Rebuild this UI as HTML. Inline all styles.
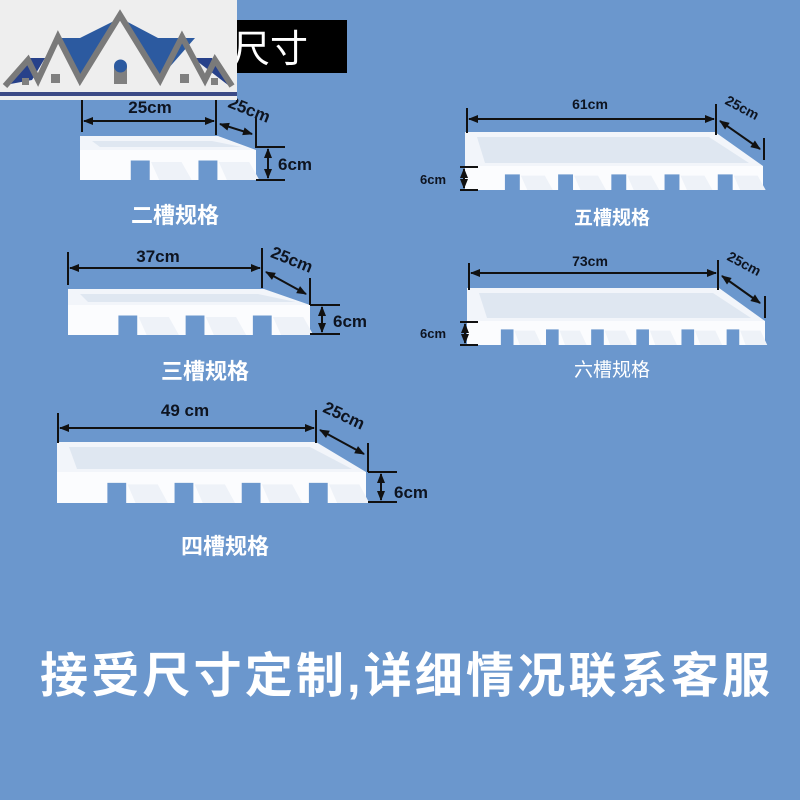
<!DOCTYPE html>
<html><head><meta charset="utf-8"><style>
html,body{margin:0;padding:0;}
body{width:800px;height:800px;background:#6b97cd;overflow:hidden;position:relative;font-family:"Liberation Sans","Noto Sans CJK SC",sans-serif;}
svg{position:absolute;left:0;top:0}
</style></head><body>
<svg id="s" width="800" height="800" viewBox="0 0 800 800">
<defs>
<marker id="a" viewBox="0 0 10 10" refX="9" refY="5" markerWidth="7" markerHeight="5" orient="auto-start-reverse"><path d="M0,1 L10,5 L0,9 z" fill="#111"/></marker>
</defs>
<rect x="0" y="0" width="800" height="800" fill="#6b97cd"/>
<g id="shelves"></g>
<g stroke="#111" stroke-width="2" fill="none">
<line x1="82" y1="100" x2="82" y2="132"/><line x1="216" y1="100" x2="216" y2="135"/>
<line x1="84" y1="121" x2="214" y2="121" marker-start="url(#a)" marker-end="url(#a)"/>
<line x1="220" y1="124" x2="252" y2="134" marker-start="url(#a)" marker-end="url(#a)"/>
<line x1="256" y1="118" x2="256" y2="148"/>
<line x1="256" y1="147" x2="285" y2="147"/><line x1="256" y1="180" x2="285" y2="180"/>
<line x1="268" y1="149" x2="268" y2="178" marker-start="url(#a)" marker-end="url(#a)"/>
<line x1="68" y1="252" x2="68" y2="285"/><line x1="262" y1="248" x2="262" y2="288"/>
<line x1="70" y1="268" x2="260" y2="268" marker-start="url(#a)" marker-end="url(#a)"/>
<line x1="266" y1="272" x2="306" y2="294" marker-start="url(#a)" marker-end="url(#a)"/>
<line x1="310" y1="278" x2="310" y2="305"/>
<line x1="310" y1="305" x2="340" y2="305"/><line x1="310" y1="334" x2="340" y2="334"/>
<line x1="322" y1="307" x2="322" y2="332" marker-start="url(#a)" marker-end="url(#a)"/>
<line x1="58" y1="413" x2="58" y2="443"/><line x1="316" y1="410" x2="316" y2="443"/>
<line x1="60" y1="428" x2="314" y2="428" marker-start="url(#a)" marker-end="url(#a)"/>
<line x1="320" y1="430" x2="364" y2="454" marker-start="url(#a)" marker-end="url(#a)"/>
<line x1="368" y1="443" x2="368" y2="472"/>
<line x1="368" y1="472" x2="397" y2="472"/><line x1="368" y1="502" x2="397" y2="502"/>
<line x1="381" y1="474" x2="381" y2="500" marker-start="url(#a)" marker-end="url(#a)"/>
<line x1="467" y1="108" x2="467" y2="133"/><line x1="716" y1="104" x2="716" y2="135"/>
<line x1="469" y1="119" x2="714" y2="119" marker-start="url(#a)" marker-end="url(#a)"/>
<line x1="720" y1="121" x2="760" y2="149" marker-start="url(#a)" marker-end="url(#a)"/>
<line x1="764" y1="138" x2="764" y2="160"/>
<line x1="460" y1="167" x2="478" y2="167"/><line x1="460" y1="190" x2="478" y2="190"/>
<line x1="464" y1="169" x2="464" y2="188" marker-start="url(#a)" marker-end="url(#a)"/>
<line x1="469" y1="263" x2="469" y2="290"/><line x1="718" y1="260" x2="718" y2="290"/>
<line x1="471" y1="273" x2="716" y2="273" marker-start="url(#a)" marker-end="url(#a)"/>
<line x1="722" y1="276" x2="760" y2="303" marker-start="url(#a)" marker-end="url(#a)"/>
<line x1="765" y1="296" x2="765" y2="318"/>
<line x1="460" y1="322" x2="478" y2="322"/><line x1="460" y1="345" x2="478" y2="345"/>
<line x1="465" y1="324" x2="465" y2="343" marker-start="url(#a)" marker-end="url(#a)"/>
</g>
<g fill="#0e1420" font-family="Liberation Sans, sans-serif" font-size="15" font-weight="bold">
<text x="150" y="113" text-anchor="middle" font-size="17">25cm</text>
<text x="226" y="112" font-size="17" transform="rotate(22 240 112)">25cm</text>
<text x="278" y="170" font-size="17">6cm</text>
<text x="158" y="262" text-anchor="middle" font-size="17">37cm</text>
<text x="268" y="265" font-size="17" transform="rotate(22 290 265)">25cm</text>
<text x="333" y="327" font-size="17">6cm</text>
<text x="185" y="416" text-anchor="middle" font-size="17">49 cm</text>
<text x="320" y="420" font-size="17" transform="rotate(25 340 420)">25cm</text>
<text x="394" y="498" font-size="17">6cm</text>
<text x="590" y="109" text-anchor="middle" font-size="14">61cm</text>
<text x="722" y="112" font-size="14" transform="rotate(28 740 112)">25cm</text>
<text x="420" y="184" font-size="13">6cm</text>
<text x="590" y="266" text-anchor="middle" font-size="14">73cm</text>
<text x="724" y="268" font-size="14" transform="rotate(28 742 268)">25cm</text>
<text x="420" y="338" font-size="13">6cm</text>
</g>
<g fill="#fff" font-family="Liberation Sans, Noto Sans CJK SC, sans-serif" font-weight="bold">
<text x="175" y="223" text-anchor="middle" font-size="22">二槽规格</text>
<text x="205" y="379" text-anchor="middle" font-size="22">三槽规格</text>
<text x="225" y="554" text-anchor="middle" font-size="22">四槽规格</text>
<text x="612" y="224" text-anchor="middle" font-size="19">五槽规格</text>
<text x="612" y="376" text-anchor="middle" font-size="19" font-weight="normal">六槽规格</text>
<text x="405" y="692" text-anchor="middle" font-size="48" font-weight="bold" textLength="730">接受尺寸定制,详细情况联系客服</text>
</g>
<rect x="237" y="20" width="110" height="53" fill="#000"/>
<text x="232" y="62" fill="#fff" font-size="38" font-family="Liberation Sans, Noto Sans CJK SC, sans-serif">尺寸</text>
<rect x="0" y="0" width="237" height="100" fill="#eeeeee"/>
<rect x="0" y="92" width="237" height="4" fill="#3b4a86"/>
<g>
<polygon points="5,85 28,58 45,58 32,80" fill="#27418a"/>
<polygon points="55,38 80,38 120,18 78,78" fill="#2c5aa0"/>
<polygon points="120,18 158,38 195,38 160,78" fill="#2c5aa0"/>
<polygon points="193,58 212,58 228,85" fill="#27418a"/>
<polyline points="5,86 28,60 38,80 58,37 80,80 120,15 160,80 182,37 205,80 215,60 232,86" fill="none" stroke="#7a7a7a" stroke-width="6" stroke-linejoin="miter"/>
<rect x="114" y="66" width="13" height="18" fill="#808080"/>
<circle cx="120.5" cy="66" r="6.5" fill="#2c5aa0"/>
<rect x="51" y="74" width="9" height="9" fill="#808080"/>
<rect x="180" y="74" width="9" height="9" fill="#808080"/>
<rect x="22" y="78" width="7" height="7" fill="#808080"/>
<rect x="211" y="78" width="7" height="7" fill="#808080"/>
</g>
</svg>
<script>
var g=document.getElementById('shelves');
function el(t,a){var e=document.createElementNS('http://www.w3.org/2000/svg',t);for(var k in a)e.setAttribute(k,a[k]);g.appendChild(e);}
function shelf(x0,x1,yt,yf,yb,n,skew){
 el('polygon',{points:x0+','+yt+' '+(x1-skew)+','+yt+' '+x1+','+yf+' '+x0+','+yf,fill:'#f2f5fa'});
 el('polygon',{points:(x0+12)+','+(yt+5)+' '+(x1-skew-6)+','+(yt+5)+' '+(x1-14)+','+(yf-3)+' '+(x0+20)+','+(yf-3),fill:'#dfe7f1'});
 el('rect',{x:x0,y:yf,width:x1-x0,height:yb-yf,fill:'#fbfcfe'});
 var w=(x1-x0)/(n+0.6);
 for(var i=0;i<n;i++){
  var cx=x0+w*(0.75+i);
  el('rect',{x:cx,y:yf+(yb-yf)*0.35,width:w*0.28,height:(yb-yf)*0.65+1,fill:'#6b97cd'});
  el('polygon',{points:(cx+w*0.3)+','+(yf+(yb-yf)*0.4)+' '+(cx+w*0.75)+','+(yf+(yb-yf)*0.4)+' '+(cx+w*0.9)+','+yb+' '+(cx+w*0.42)+','+yb,fill:'#eef2f8'});
 }
}
shelf(80,256,136,150,180,2,38);
shelf(68,310,289,305,335,3,46);
shelf(57,366,442,472,503,4,50);
shelf(465,763,132,166,190,5,48);
shelf(467,765,288,321,345,6,46);
</script>
</body></html>
